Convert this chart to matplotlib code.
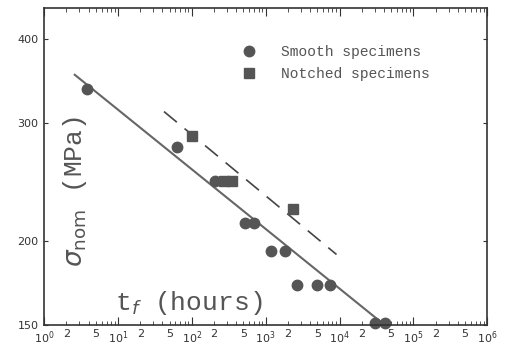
import numpy as np
import matplotlib
matplotlib.use("Agg")
import matplotlib.pyplot as plt
from matplotlib.ticker import FixedLocator, FixedFormatter, NullFormatter

# rupture time (hours) and nominal stress (MPa)
smooth_t = [3.8, 63, 205, 530, 690, 1170, 1810, 2620, 4890, 7330, 30700, 41900]
smooth_s = [337, 276, 246, 213, 213, 193, 193, 172, 172, 172, 151, 151]

notched_t = [100, 270, 347, 2320]
notched_s = [287, 246, 246, 223]

# fitted lines (end points)
fit_smooth_t = [2.6, 40500]
fit_smooth_s = [354, 150]
fit_notch_t = [42, 9100]
fit_notch_s = [312, 191]

y_ticks = [150, 200, 300, 400]

col = "#555555"
txt = "#555555"

fig = plt.figure(figsize=(5.07, 3.55), dpi=100)
ax = fig.add_axes([0.087, 0.085, 0.874, 0.892])

ax.plot(fit_smooth_t, fit_smooth_s, color="#666666", lw=1.5)
ax.plot(fit_notch_t, fit_notch_s, color="#444444", lw=1.2, dashes=(10, 6))
ax.plot(smooth_t, smooth_s, "o", color=col, ms=7.5, mec=col, clip_on=False,
        label="Smooth specimens")
ax.plot(notched_t, notched_s, "s", color=col, ms=7.5, mec=col, clip_on=False,
        label="Notched specimens")

ax.set_xscale("log")
ax.set_yscale("log")
ax.set_xlim(1, 1e6)
ax.set_ylim(150, 445)

# x ticks: decades labelled, 2 and 5 labelled too
major = [10.0**k for k in range(7)]
ax.xaxis.set_major_locator(FixedLocator(major))
ax.xaxis.set_major_formatter(FixedFormatter(["$10^{%d}$" % k for k in range(7)]))
minor = []
minor_lab = []
for k in range(6):
    for m in range(2, 10):
        minor.append(m * 10.0**k)
        minor_lab.append(str(m) if m in (2, 5) else "")
ax.xaxis.set_minor_locator(FixedLocator(minor))
ax.xaxis.set_minor_formatter(FixedFormatter(minor_lab))

ax.yaxis.set_major_locator(FixedLocator(y_ticks))
ax.yaxis.set_major_formatter(FixedFormatter([str(v) for v in y_ticks]))
ax.yaxis.set_minor_locator(FixedLocator([]))
ax.yaxis.set_minor_formatter(NullFormatter())

ax.tick_params(axis="both", which="both", direction="in", top=True, right=True,
               labelsize=8, colors="#333333")
ax.tick_params(axis="x", which="major", length=6, pad=3)
ax.tick_params(axis="x", which="minor", length=3, pad=3)
ax.tick_params(axis="y", which="major", length=3, pad=4)
for s in ax.spines.values():
    s.set_color("#333333")
    s.set_linewidth(1.2)

ax.text(0.16, 0.07, r"t$_f$ (hours)", transform=ax.transAxes, fontsize=19,
        family="Liberation Mono", color=txt, va="center")
ax.text(0.07, 0.42, r"$\sigma_{\rm nom}$ (MPa)", transform=ax.transAxes,
        fontsize=19, family="Liberation Mono", color=txt, rotation=90,
        ha="center", va="center")

ax.legend(loc="upper left", bbox_to_anchor=(0.40, 0.925), frameon=False,
          prop={"family": "Liberation Mono", "size": 10.5}, handletextpad=1.2,
          labelspacing=0.55, labelcolor=txt)

fig.savefig("out.png", dpi=100)
